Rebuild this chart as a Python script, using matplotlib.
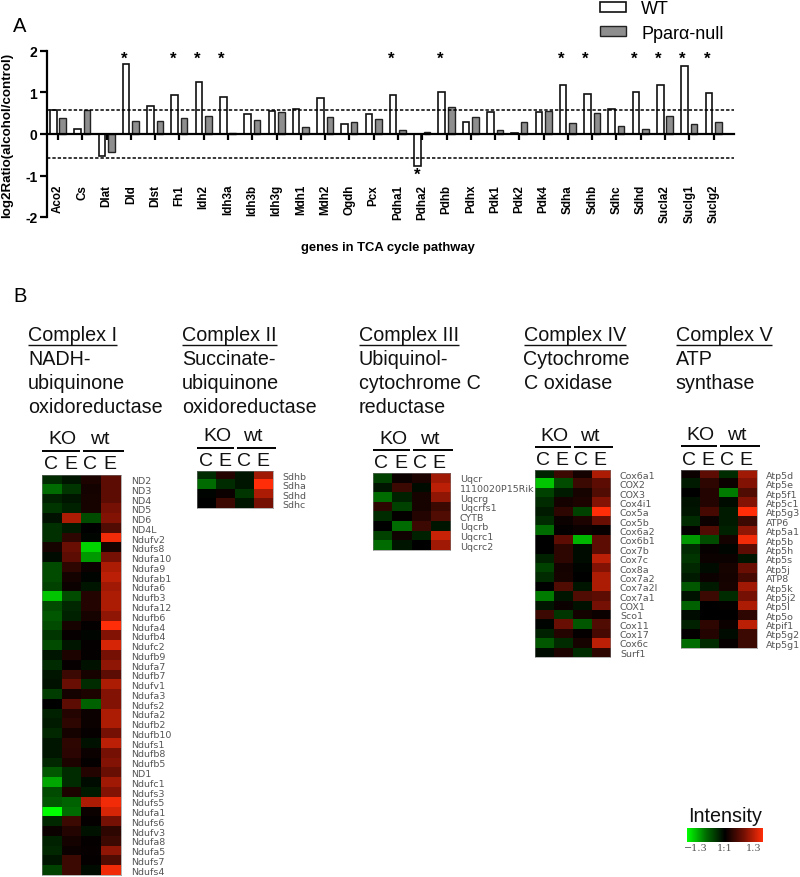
import numpy as np
import matplotlib
matplotlib.use("Agg")
import matplotlib.pyplot as plt
from matplotlib.colors import LinearSegmentedColormap

plt.rcParams['font.family'] = ['Liberation Sans', 'DejaVu Sans']

# panel A
genes = ["Aco2", "Cs", "Dlat", "Dld", "Dlst", "Fh1", "Idh2", "Idh3a", "Idh3b", "Idh3g",
         "Mdh1", "Mdh2", "Ogdh", "Pcx", "Pdha1", "Pdha2", "Pdhb", "Pdhx", "Pdk1", "Pdk2",
         "Pdk4", "Sdha", "Sdhb", "Sdhc", "Sdhd", "Sucla2", "Suclg1", "Suclg2"]
wt_vals = [0.59, 0.13, -0.52, 1.69, 0.67, 0.93, 1.25, 0.90, 0.49, 0.56,
           0.61, 0.87, 0.25, 0.47, 0.95, -0.76, 1.02, 0.29, 0.52, 0.03,
           0.52, 1.17, 0.97, 0.61, 1.00, 1.17, 1.65, 0.98]
null_vals = [0.38, 0.59, -0.43, 0.32, 0.32, 0.38, 0.43, 0.02, 0.33, 0.52,
             0.16, 0.40, 0.29, 0.37, 0.09, 0.05, 0.66, 0.40, 0.10, 0.30,
             0.56, 0.27, 0.51, 0.20, 0.13, 0.43, 0.24, 0.28]
star_genes = ["Dld", "Fh1", "Idh2", "Idh3a", "Pdha1", "Pdhb", "Sdha", "Sdhb", "Sdhd", "Sucla2", "Suclg1", "Suclg2"]
star_low = ["Pdha2"]
cutoff = 0.57

# panel B, columns are KO C, KO E, wt C, wt E
c1_genes = ["ND2", "ND3", "ND4", "ND5", "ND6", "ND4L", "Ndufv2", "Ndufs8", "Ndufa10", "Ndufa9",
            "Ndufab1", "Ndufa6", "Ndufb3", "Ndufa12", "Ndufb6", "Ndufa4", "Ndufb4", "Ndufc2", "Ndufb9", "Ndufa7",
            "Ndufb7", "Ndufv1", "Ndufa3", "Ndufs2", "Ndufa2", "Ndufb2", "Ndufb10", "Ndufs1", "Ndufb8", "Ndufb5",
            "ND1", "Ndufc1", "Ndufs3", "Ndufs5", "Ndufa1", "Ndufs6", "Ndufv3", "Ndufa8", "Ndufa5", "Ndufs7", "Ndufs4"]
c1_vals = [[-0.2, -0.1, 0.12, 0.4], [-0.5, -0.25, 0.08, 0.4], [-0.15, -0.1, 0.1, 0.4], [-0.25, -0.15, 0.1, 0.5],
           [-0.08, 0.7, -0.35, 0.55], [-0.22, -0.12, 0, 0.35], [-0.22, 0.2, -0.03, 0.95], [0.1, 0.45, -0.85, 0.1],
           [-0.05, 0.4, -0.65, 0.5], [-0.35, 0.2, 0.05, 0.7], [-0.35, 0.08, -0.02, 0.75], [-0.3, 0.05, -0.1, 0.65],
           [-0.8, -0.35, 0.15, 0.7], [-0.35, -0.18, 0.15, 0.7], [-0.4, -0.15, 0.1, 0.6], [-0.35, 0.1, 0.02, 1.0],
           [-0.25, 0.03, -0.03, 0.55], [-0.35, -0.1, 0.02, 0.85], [-0.1, 0.12, 0.02, 0.5], [-0.2, 0.03, -0.08, 0.6],
           [-0.1, 0.25, 0.1, 0.4], [-0.08, 0.45, -0.2, 0.7], [-0.28, 0.08, 0.12, 0.55], [0, 0.4, -0.45, 0.55],
           [-0.15, 0.15, 0.05, 0.7], [-0.12, 0.2, 0.05, 0.7], [-0.18, 0.08, 0.03, 0.5], [-0.1, 0.2, -0.08, 0.75],
           [-0.1, 0.18, 0.05, 0.5], [-0.18, 0.12, 0.02, 0.55], [-0.4, -0.2, 0.15, 0.45], [-0.7, -0.2, -0.05, 0.65],
           [-0.35, 0.12, -0.12, 0.55], [-0.4, -0.45, 0.7, 0.95], [-1.0, -0.5, 0.05, 0.85], [-0.18, 0.25, 0.02, 0.5],
           [0.05, 0.15, -0.08, 0.2], [-0.15, 0.08, 0.02, 0.25], [-0.18, 0.05, 0.03, 0.6], [-0.1, 0.25, 0.02, 0.35],
           [-0.3, 0.25, -0.05, 0.95]]

c2_genes = ["Sdhb", "Sdha", "Sdhd", "Sdhc"]
c2_vals = [[-0.2, 0.15, -0.1, 0.65], [-0.5, -0.2, -0.1, 1.0], [-0.02, 0.05, -0.25, 0.7], [0, 0.25, -0.1, 0.5]]

c3_genes = ["Uqcr", "1110020P15Rik", "Uqcrg", "Uqcrfs1", "CYTB", "Uqcrb", "Uqcrc1", "Uqcrc2"]
c3_vals = [[-0.3, 0.05, 0.12, 0.65], [-0.1, 0.25, -0.05, 0.75], [-0.5, -0.15, 0.1, 0.6], [0.2, -0.3, 0.1, 0.25],
           [-0.2, 0.02, 0.15, 0.35], [0, -0.5, 0.25, -0.1], [-0.3, 0.07, -0.15, 0.8], [-0.5, -0.1, 0, 0.65]]

c4_genes = ["Cox6a1", "COX2", "COX3", "Cox4i1", "Cox5a", "Cox5b", "Cox6a2", "Cox6b1", "Cox7b", "Cox7c",
            "Cox8a", "Cox7a2", "Cox7a2l", "Cox7a1", "COX1", "Sco1", "Cox11", "Cox17", "Cox6c", "Surf1"]
c4_vals = [[-0.15, 0.25, 0.08, 0.7], [-0.8, -0.35, 0.25, 0.4], [-0.3, -0.12, 0.1, 0.35], [-0.2, 0.08, 0.12, 0.55],
           [-0.12, 0.2, -0.3, 1.0], [-0.2, 0.05, 0.12, 0.45], [-0.5, 0.02, 0.05, 0.03], [0, 0.4, -0.75, 0.4],
           [0, 0.2, -0.05, 0.4], [-0.15, 0.2, -0.05, 0.75], [-0.3, 0.08, -0.02, 0.55], [-0.2, 0.1, 0, 0.7],
           [0, 0.35, -0.1, 0.7], [-0.55, -0.1, 0.35, 0.4], [-0.1, 0.05, -0.08, 0.5], [0.25, -0.25, 0.08, 0.05],
           [-0.02, 0.45, -0.4, 0.35], [-0.15, 0.15, 0.02, 0.3], [-0.4, -0.2, 0.1, 0.75], [-0.05, 0.12, -0.2, 0.2]]

c5_genes = ["Atp5d", "Atp5e", "Atp5f1", "Atp5c1", "Atp5g3", "ATP6", "Atp5a1", "Atp5b", "Atp5h", "Atp5s",
            "Atp5j", "ATP8", "Atp5k", "Atp5j2", "Atp5l", "Atp5o", "Atpif1", "Atp5g2", "Atp5g1"]
c5_vals = [[0.05, 0.4, -0.2, 0.65], [-0.12, 0.2, 0.05, 0.55], [0, 0.15, -0.55, 0.35], [-0.08, 0.15, -0.05, 0.55],
           [-0.1, 0.3, -0.12, 1.0], [-0.2, 0.05, -0.12, 0.25], [0.02, 0.35, -0.15, 0.6], [-0.65, -0.35, 0.08, 0.95],
           [-0.2, 0.03, -0.03, 0.4], [-0.25, 0.05, 0.05, -0.1], [-0.18, -0.05, 0.1, 0.45], [-0.12, 0.05, 0.08, 0.3],
           [-0.4, -0.12, 0.1, 0.65], [-0.08, 0.25, -0.2, 0.5], [-0.45, 0, 0.02, 0.7], [-0.05, 0, 0, 0.2],
           [-0.15, 0.2, 0.05, 0.75], [0.02, 0.15, -0.05, 0.25], [-0.5, -0.2, 0.03, 0.25]]

W, H = 800, 878
fig = plt.figure(figsize=(W / 100, H / 100), dpi=100)
# mid tones a bit darker than a straight ramp
cmap = LinearSegmentedColormap.from_list("gbr", [(0, "#00ff00"), (0.25, "#006c00"), (0.5, "#000000"),
                                                 (0.75, "#741004"), (1, "#ff2e08")])


def px_axes(x0, y0, x1, y1):
    # axes placed in image pixels, y counted from the top
    return fig.add_axes([x0 / W, 1 - y1 / H, (x1 - x0) / W, (y1 - y0) / H])


# overlay for the free text
ov = fig.add_axes([0, 0, 1, 1], zorder=5)
ov.set_xlim(0, W)
ov.set_ylim(H, 0)
ov.axis("off")

##################################
# panel A
ax = px_axes(47, 52, 734, 218)
x = np.arange(len(genes))
offs = 0.195
bars_wt = ax.bar(x - offs, wt_vals, 0.27, color="white", edgecolor="#111111", linewidth=1.2, label="WT")
bars_null = ax.bar(x + offs, null_vals, 0.27, color="#8e8e8e", edgecolor="#222222", linewidth=1.0, label="Ppar\u03b1-null")
ax.set_xlim(-0.453, 27.84)
ax.set_ylim(-2, 2)
ax.axhline(cutoff, color="black", ls=(0, (2.2, 1.3)), lw=1.1)
ax.axhline(-cutoff, color="black", ls=(0, (2.2, 1.3)), lw=1.1)
for sp in ["top", "right"]:
    ax.spines[sp].set_visible(False)
ax.spines["bottom"].set_position(("data", 0))
ax.spines["bottom"].set_linewidth(1.6)
ax.spines["left"].set_linewidth(1.6)
ax.patch.set_alpha(0)
ax.set_yticks([-2, -1, 0, 1, 2])
ax.set_yticklabels(["-2", "-1", "0", "1", "2"], fontweight="bold", fontsize=10)
ax.tick_params(axis="y", length=5, width=1.6, pad=2)
ax.set_xticks(x)
ax.set_xticklabels(genes, rotation=90, fontweight="bold", fontsize=8.4, va="top")
ax.tick_params(axis="x", length=4, width=1.6, pad=32)

for g in star_genes:
    ax.text(genes.index(g) - offs - 0.08, 1.83, "*", ha="center", va="center", fontsize=12, fontweight="bold")
for g in star_low:
    ax.text(genes.index(g) - offs, -0.98, "*", ha="center", va="center", fontsize=12, fontweight="bold")

ov.text(7, 135, "log2Ratio(alcohol/control)", rotation=90, ha="center", va="center", fontweight="bold", fontsize=9.6)
ov.text(388, 248, "genes in TCA cycle pathway", ha="center", va="center", fontweight="bold", fontsize=9.4)
ov.text(13, 26, "A", ha="left", va="center", fontsize=14.5)
ov.text(13, 297, "B", ha="left", va="center", fontsize=14.5)

leg = fig.legend(handles=[bars_wt, bars_null], loc="upper left",
                 bbox_to_anchor=(586 / W, 1 + 13 / H), frameon=False, fontsize=13,
                 handlelength=1.4, handleheight=0.5, handletextpad=0.85, labelspacing=0.4,
                 borderpad=0.3)
leg.set_zorder(6)

##################################
# panel B titles
titles = [(28, ["Complex I", "NADH-", "ubiquinone", "oxidoreductase"]),
          (182, ["Complex II", "Succinate-", "ubiquinone", "oxidoreductase"]),
          (359, ["Complex III", "Ubiquinol-", "cytochrome C", "reductase"]),
          (523.5, ["Complex IV", "Cytochrome", "C oxidase"]),
          (675.6, ["Complex V", "ATP", "synthase"])]
renderer = fig.canvas.get_renderer()
for tx, lines in titles:
    for i, s in enumerate(lines):
        t = ov.text(tx, 336 + i * 23.8, s, ha="left", va="center", fontsize=14.2, color="#111111")
        if i == 0:
            bb = t.get_window_extent(renderer)
            ov.plot([bb.x0, bb.x1], [346, 346], color="#111111", lw=1.0, solid_capstyle="butt")

# heatmaps: vals, genes, box, label pad px, header y's (KO/wt, rule, C E C E)
maps = [(c1_vals, c1_genes, (42, 475.7, 120.7, 876), 10, 440, 452, 465),
        (c2_vals, c2_genes, (197, 471.7, 273, 509), 9, 437, 449, 462),
        (c3_vals, c3_genes, (372.7, 474, 450, 551), 10, 440, 451, 464),
        (c4_vals, c4_genes, (534.7, 470.7, 610, 658), 10, 437, 448, 461),
        (c5_vals, c5_genes, (680.7, 470.7, 756.7, 649), 9.5, 436, 447, 461)]
for vals, names, box, lab_pad, y_ko, y_rule, y_ce in maps:
    hm = px_axes(*box)
    hm.imshow(np.array(vals), cmap=cmap, vmin=-1, vmax=1, aspect="auto", interpolation="nearest")
    hm.set_xticks([])
    hm.yaxis.tick_right()
    hm.set_yticks(np.arange(len(names)))
    hm.set_yticklabels(names, fontsize=6.8, color="#555555", family="DejaVu Sans")
    hm.tick_params(axis="y", length=0, pad=lab_pad * 0.72)
    for sp in hm.spines.values():
        sp.set_linewidth(0.4)
        sp.set_color("#777777")
    x0, x1 = box[0], box[2]
    cw = (x1 - x0) / 4
    ov.text(x0 + cw + 1, y_ko, "KO", ha="center", va="center", fontsize=14, color="#111111")
    ov.text(x0 + 3 * cw - 1, y_ko, "wt", ha="center", va="center", fontsize=14, color="#111111")
    ov.plot([x0, x0 + 2 * cw - 1.5], [y_rule, y_rule], color="black", lw=1.4, solid_capstyle="butt")
    ov.plot([x0 + 2 * cw + 1.5, x1 + 3], [y_rule, y_rule], color="black", lw=1.4, solid_capstyle="butt")
    for j, s in enumerate(["C", "E", "C", "E"]):
        ov.text(x0 + (j + 0.5) * cw - 1, y_ce, s, ha="center", va="center", fontsize=14, color="#111111")

##################################
# intensity key
ck = px_axes(686.7, 829, 762.7, 843)
ck.imshow(np.linspace(-1, 1, 256).reshape(1, -1), cmap=cmap, vmin=-1, vmax=1, aspect="auto", extent=[-1.3, 1.3, 0, 1])
ck.set_yticks([])
ck.set_xticks([-1.0, 0, 1.0])
ck.set_xticklabels(["\u22121.3", "1:1", "1.3"], fontsize=7, color="#555555", family="DejaVu Serif")
ck.tick_params(axis="x", length=0, pad=1)
for sp in ck.spines.values():
    sp.set_visible(False)
ov.text(688, 817, "Intensity", ha="left", va="center", fontsize=14.2, color="#111111")

fig.savefig("out.png", dpi=100)
